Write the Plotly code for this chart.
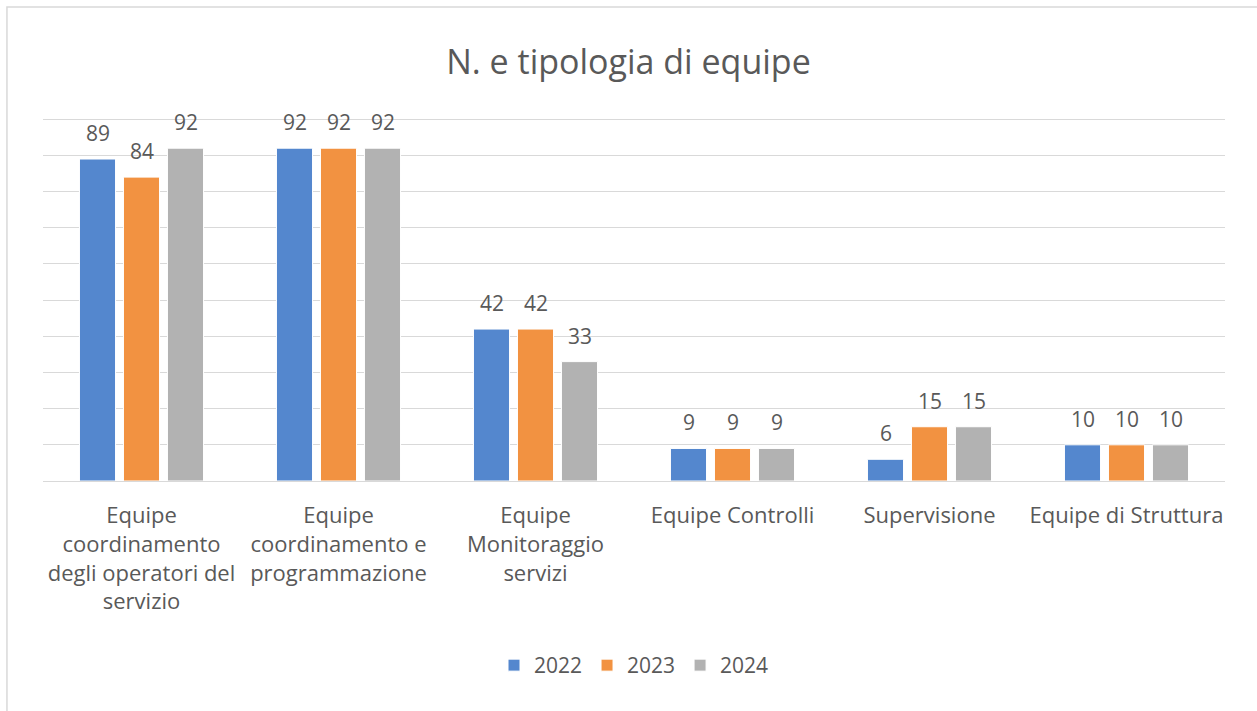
"""N. e tipologia di equipe: grouped bar chart 2022-2024."""

import plotly.graph_objects as go

categories = [
    "Equipe<br>coordinamento<br>degli operatori del<br>servizio",
    "Equipe<br>coordinamento e<br>programmazione",
    "Equipe<br>Monitoraggio<br>servizi",
    "Equipe Controlli",
    "Supervisione",
    "Equipe di Struttura",
]
years = ["2022", "2023", "2024"]
values_2022 = [89, 92, 42, 9, 6, 10]
values_2023 = [84, 92, 42, 9, 15, 10]
values_2024 = [92, 92, 33, 9, 15, 10]

# Office-like palette
_COLORS = ["#5487CE", "#F29241", "#B2B2B2"]
_TEXT = "#595959"
_FONT = "Open Sans"
_SLOT = 44  # px per barra nel gruppo, per allineare le etichette

fig = go.Figure()
series = [values_2022, values_2023, values_2024]
for i, (year, vals, color) in enumerate(zip(years, series, _COLORS)):
    fig.add_trace(
        go.Bar(
            x=categories,
            y=vals,
            name=year,
            marker=dict(color=color, line=dict(color="white", width=1)),
        )
    )
    # etichette dati un po' staccate dalla barra, come in Excel
    for cat, v in zip(categories, vals):
        fig.add_annotation(
            x=cat, y=v, text=str(v),
            xref="x", yref="y",
            xshift=(i - 1) * _SLOT, yshift=10,
            yanchor="bottom", showarrow=False,
            font=dict(size=21, color=_TEXT, family=_FONT),
        )

# bordo leggero del riquadro del grafico
fig.add_shape(
    type="rect", xref="paper", yref="paper",
    x0=-0.0305, x1=1.05, y0=-0.7, y1=1.2846,
    line=dict(color="#D9D9D9", width=1.5), fillcolor="rgba(0,0,0,0)",
    layer="below",
)

fig.update_layout(
    width=1257,
    height=711,
    paper_bgcolor="white",
    plot_bgcolor="white",
    font=dict(family=_FONT, color=_TEXT, size=21),
    title=dict(
        text="N. e tipologia di equipe",
        x=0.5, xanchor="center", y=0.913, yanchor="middle",
        font=dict(size=34, color=_TEXT, family=_FONT),
    ),
    barmode="group",
    bargap=0.33,
    bargroupgap=0.18,
    margin=dict(l=43, r=32, t=112, b=230),
    xaxis=dict(
        showgrid=False,
        showline=True,
        linecolor="#D9D9D9",
        linewidth=1,
        ticks="outside",
        ticklen=15,
        tickcolor="rgba(0,0,0,0)",
        tickfont=dict(size=22, color=_TEXT, family=_FONT),
        tickangle=0,
    ),
    yaxis=dict(
        range=[0, 102],
        tickvals=list(range(0, 101, 10)),
        showgrid=True,
        gridcolor="#D9D9D9",
        gridwidth=1,
        showticklabels=False,
        zeroline=False,
    ),
    legend=dict(
        orientation="h",
        x=0.5, xanchor="center",
        y=-0.5, yanchor="middle",
        font=dict(size=21, color=_TEXT, family=_FONT),
        itemwidth=30,
        traceorder="normal",
    ),
    showlegend=True,
)

fig.write_html(
    "out.html",
    config={"displayModeBar": False},
    post_script="document.body.style.margin='0';",
)
